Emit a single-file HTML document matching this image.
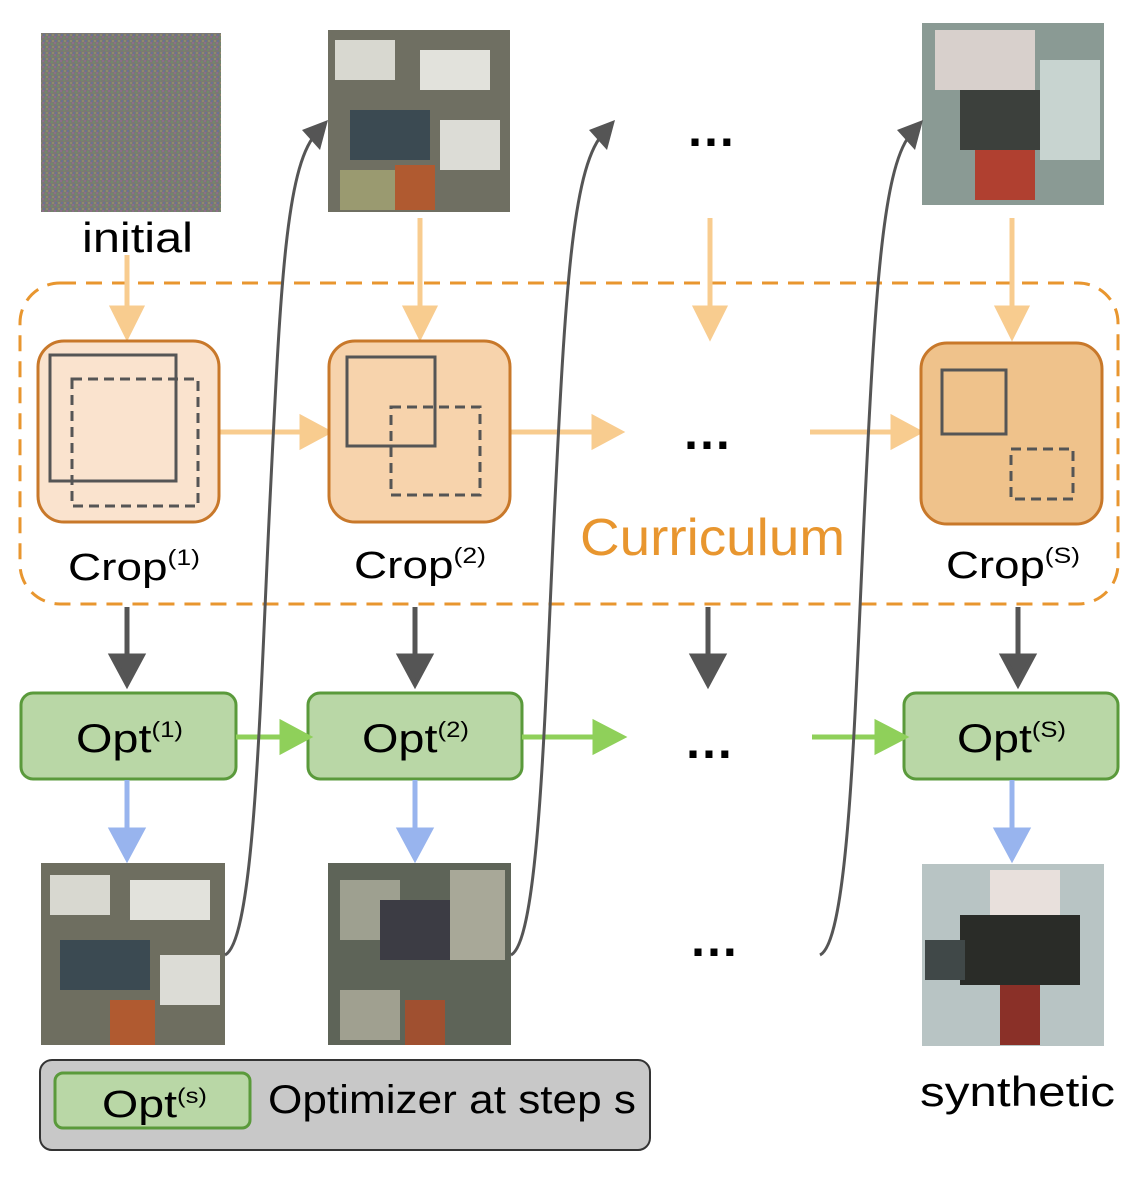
<!DOCTYPE html>
<html><head><meta charset="utf-8"><style>
html,body{margin:0;padding:0;background:#fff;}
svg{display:block;font-family:"Liberation Sans",sans-serif;}
</style></head><body>
<svg width="1146" height="1184" viewBox="0 0 1146 1184" xmlns="http://www.w3.org/2000/svg">
<defs>
<pattern id="noise" width="6" height="6" patternUnits="userSpaceOnUse">
<rect width="6" height="6" fill="#7b7873"/>
<rect x="0" y="0" width="2" height="2" fill="#8c6f8a"/>
<rect x="3" y="1" width="2" height="2" fill="#6f8a6a"/>
<rect x="1" y="4" width="2" height="2" fill="#6a7390"/>
<rect x="4" y="4" width="2" height="2" fill="#8f8a6c"/>
</pattern>
</defs>

<!-- top images -->
<rect x="41" y="33" width="180" height="179" fill="url(#noise)"/>
<g>
<rect x="328" y="30" width="182" height="182" fill="#6f6f62"/>
<rect x="335" y="40" width="60" height="40" fill="#d8d8d0"/>
<rect x="420" y="50" width="70" height="40" fill="#e2e2dc"/>
<rect x="350" y="110" width="80" height="50" fill="#3b4a52"/>
<rect x="440" y="120" width="60" height="50" fill="#dcdcd6"/>
<rect x="340" y="170" width="60" height="40" fill="#9a9a70"/>
<rect x="395" y="165" width="40" height="45" fill="#b05a30"/>
</g>
<g>
<rect x="922" y="23" width="182" height="182" fill="#8a9a94"/>
<rect x="935" y="30" width="100" height="60" fill="#d8d0cc"/>
<rect x="960" y="90" width="80" height="60" fill="#3c403c"/>
<rect x="1040" y="60" width="60" height="100" fill="#c8d4d0"/>
<rect x="975" y="150" width="60" height="50" fill="#b04030"/>
</g>
<text x="686" y="146" font-size="50" font-weight="bold" fill="#000">…</text>
<text x="82" y="252" font-size="42" textLength="111" lengthAdjust="spacingAndGlyphs">initial</text>

<!-- dashed box -->
<rect x="20" y="283" width="1098" height="321" rx="40" fill="none" stroke="#e8962f" stroke-width="3" stroke-dasharray="16,10"/>

<!-- orange arrows -->
<g stroke="#f8cc8f" stroke-width="5" fill="#f8cc8f">
<line x1="127" y1="255" x2="127" y2="312"/><polygon points="113,308 141,308 127,336"/>
<line x1="420" y1="218" x2="420" y2="312"/><polygon points="406,308 434,308 420,336"/>
<line x1="710" y1="218" x2="710" y2="312"/><polygon points="696,308 724,308 710,336"/>
<line x1="1012" y1="218" x2="1012" y2="312"/><polygon points="998,308 1026,308 1012,336"/>
<line x1="219" y1="432" x2="305" y2="432"/><polygon points="302,418 302,446 328,432"/>
<line x1="510" y1="432" x2="597" y2="432"/><polygon points="594,418 594,446 620,432"/>
<line x1="810" y1="432" x2="896" y2="432"/><polygon points="893,418 893,446 919,432"/>
</g>

<!-- crop boxes -->
<rect x="38" y="341" width="181" height="181" rx="26" fill="#fae3ce" stroke="#c8782a" stroke-width="3"/>
<rect x="50" y="355" width="126" height="126" fill="none" stroke="#555" stroke-width="3"/>
<rect x="72" y="379" width="126" height="127" fill="none" stroke="#555" stroke-width="3" stroke-dasharray="10,6"/>
<rect x="329" y="341" width="181" height="181" rx="26" fill="#f7d3ac" stroke="#c8782a" stroke-width="3"/>
<rect x="347" y="357" width="88" height="89" fill="none" stroke="#555" stroke-width="3"/>
<rect x="391" y="407" width="89" height="88" fill="none" stroke="#555" stroke-width="3" stroke-dasharray="10,6"/>
<rect x="921" y="343" width="181" height="181" rx="26" fill="#efc28b" stroke="#c8782a" stroke-width="3"/>
<rect x="942" y="370" width="64" height="64" fill="none" stroke="#555" stroke-width="3"/>
<rect x="1011" y="449" width="62" height="50" fill="none" stroke="#555" stroke-width="3" stroke-dasharray="10,6"/>
<text x="682" y="449" font-size="50" font-weight="bold" fill="#000">…</text>

<text x="580" y="555" font-size="52" fill="#e8962f" textLength="265" lengthAdjust="spacingAndGlyphs">Curriculum</text>
<text x="68" y="580" font-size="38" textLength="132" lengthAdjust="spacingAndGlyphs">Crop<tspan font-size="22" dy="-15">(1)</tspan></text>
<text x="354" y="578" font-size="38" textLength="132" lengthAdjust="spacingAndGlyphs">Crop<tspan font-size="22" dy="-15">(2)</tspan></text>
<text x="946" y="578" font-size="38" textLength="134" lengthAdjust="spacingAndGlyphs">Crop<tspan font-size="22" dy="-15">(S)</tspan></text>

<!-- dark arrows -->
<g stroke="#555" stroke-width="5" fill="#555">
<line x1="127" y1="607" x2="127" y2="660"/><polygon points="112,656 142,656 127,684"/>
<line x1="415" y1="607" x2="415" y2="660"/><polygon points="400,656 430,656 415,684"/>
<line x1="708" y1="607" x2="708" y2="660"/><polygon points="693,656 723,656 708,684"/>
<line x1="1018" y1="607" x2="1018" y2="660"/><polygon points="1003,656 1033,656 1018,684"/>
</g>

<!-- opt boxes -->
<g fill="#b9d7a6" stroke="#5a9a3b" stroke-width="3">
<rect x="21" y="693" width="215" height="86" rx="12"/>
<rect x="308" y="693" width="214" height="86" rx="12"/>
<rect x="904" y="693" width="214" height="86" rx="12"/>
</g>
<text x="76" y="752" font-size="40" textLength="107" lengthAdjust="spacingAndGlyphs">Opt<tspan font-size="22" dy="-15">(1)</tspan></text>
<text x="362" y="752" font-size="40" textLength="107" lengthAdjust="spacingAndGlyphs">Opt<tspan font-size="22" dy="-15">(2)</tspan></text>
<text x="957" y="752" font-size="40" textLength="109" lengthAdjust="spacingAndGlyphs">Opt<tspan font-size="22" dy="-15">(S)</tspan></text>
<text x="684" y="758" font-size="50" font-weight="bold" fill="#000">…</text>

<g stroke="#8fd05a" stroke-width="5" fill="#8fd05a">
<line x1="236" y1="737" x2="285" y2="737"/><polygon points="282,723 282,751 308,737"/>
<line x1="522" y1="737" x2="598" y2="737"/><polygon points="595,723 595,751 622,737"/>
<line x1="812" y1="737" x2="880" y2="737"/><polygon points="877,723 877,751 904,737"/>
</g>
<g stroke="#98b4ee" stroke-width="5" fill="#98b4ee">
<line x1="127" y1="780" x2="127" y2="834"/><polygon points="112,830 142,830 127,858"/>
<line x1="415" y1="780" x2="415" y2="834"/><polygon points="400,830 430,830 415,858"/>
<line x1="1012" y1="780" x2="1012" y2="834"/><polygon points="997,830 1027,830 1012,858"/>
</g>

<!-- bottom images -->
<g>
<rect x="41" y="863" width="184" height="182" fill="#6e6e60"/>
<rect x="50" y="875" width="60" height="40" fill="#d8d8d0"/>
<rect x="130" y="880" width="80" height="40" fill="#e2e2dc"/>
<rect x="60" y="940" width="90" height="50" fill="#3b4a52"/>
<rect x="160" y="955" width="60" height="50" fill="#dcdcd6"/>
<rect x="110" y="1000" width="45" height="45" fill="#b05a30"/>
</g>
<g>
<rect x="328" y="863" width="183" height="182" fill="#5e6458"/>
<rect x="340" y="880" width="60" height="60" fill="#9ea090"/>
<rect x="380" y="900" width="80" height="60" fill="#3c3c44"/>
<rect x="450" y="870" width="55" height="90" fill="#a8a898"/>
<rect x="340" y="990" width="60" height="50" fill="#a0a090"/>
<rect x="405" y="1000" width="40" height="45" fill="#a05030"/>
</g>
<g>
<rect x="922" y="864" width="182" height="182" fill="#b8c4c4"/>
<rect x="990" y="870" width="70" height="60" fill="#e8e0dc"/>
<rect x="960" y="915" width="120" height="70" fill="#2a2c28"/>
<rect x="1000" y="985" width="40" height="60" fill="#8a3028"/>
<rect x="925" y="940" width="40" height="40" fill="#404848"/>
</g>
<text x="689" y="956" font-size="50" font-weight="bold" fill="#000">…</text>

<!-- curves -->
<g fill="none" stroke="#555" stroke-width="3">
<path d="M225,955 C255,940 260,700 270,500 C280,300 285,170 315,135"/>
<path d="M511,955 C540,940 545,700 555,500 C565,300 572,170 602,135"/>
<path d="M820,955 C850,940 855,700 865,500 C875,300 882,170 910,135"/>
</g>
<g fill="#555">
<polygon points="302,130 328,120 320,150"/>
<polygon points="589,130 615,120 607,150"/>
<polygon points="897,130 923,120 915,150"/>
</g>

<!-- legend -->
<rect x="40" y="1060" width="610" height="90" rx="12" fill="#c8c8c8" stroke="#333" stroke-width="2"/>
<rect x="55" y="1073" width="195" height="55" rx="8" fill="#b9d7a6" stroke="#5a9a3b" stroke-width="3"/>
<text x="102" y="1117" font-size="38" textLength="105" lengthAdjust="spacingAndGlyphs">Opt<tspan font-size="21" dy="-14">(s)</tspan></text>
<text x="268" y="1113" font-size="40" textLength="368" lengthAdjust="spacingAndGlyphs">Optimizer at step s</text>

<text x="920" y="1106" font-size="42" textLength="195" lengthAdjust="spacingAndGlyphs">synthetic</text>
</svg>
</body></html>
